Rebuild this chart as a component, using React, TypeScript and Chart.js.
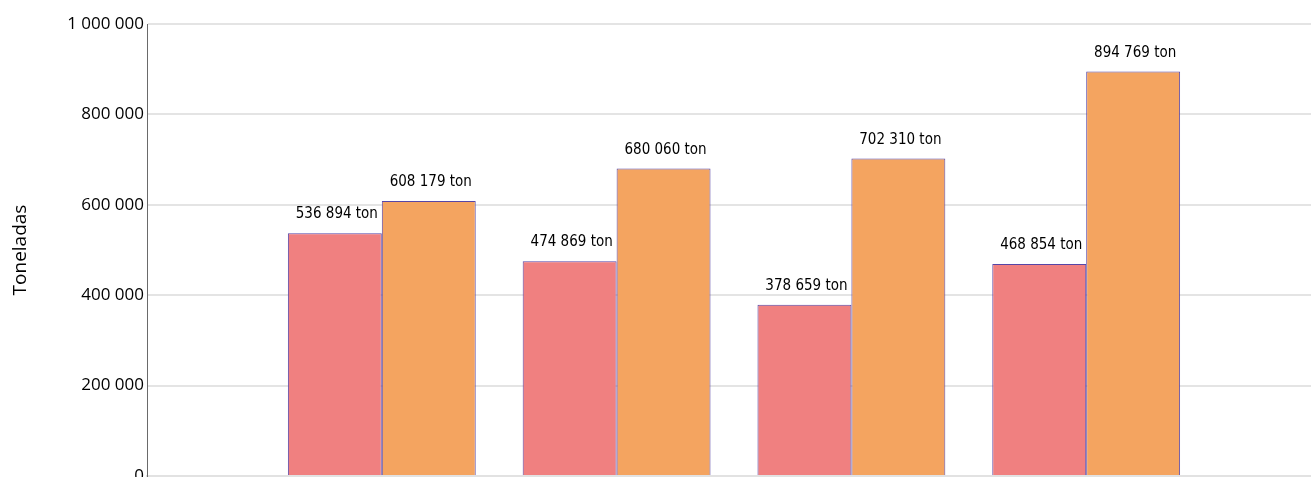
import React, { useEffect, useRef } from 'react';
import { Chart, registerables } from 'chart.js';

Chart.register(...registerables);

// Empty slots at both ends keep the four groups at 1/5 .. 4/5 of the plot width
const categories = ['', '2019', '2020', '2021', '2022', ''];
const seriesNames = ['Serie 1', 'Serie 2'];
const seriesRed = [null, 536894, 474869, 378659, 468854, null];
const seriesOrange = [null, 608179, 680060, 702310, 894769, null];
const yMin = 0;
const yMax = 1000000;
const yStep = 200000;
const axisTitle = 'Toneladas';
const unitSuffix = ' ton';

const fmt = (n: number) => String(Math.round(n)).replace(/\B(?=(\d{3})+(?!\d))/g, ' ');

const valueLabels = {
  id: 'valueLabels',
  afterDatasetsDraw(chart: any) {
    const ctx = chart.ctx;
    ctx.save();
    ctx.font = '15px "DejaVu Sans Condensed", "DejaVu Sans", sans-serif';
    ctx.fillStyle = '#000';
    ctx.textAlign = 'center';
    ctx.textBaseline = 'alphabetic';
    chart.data.datasets.forEach((ds: any, di: number) => {
      const meta = chart.getDatasetMeta(di);
      meta.data.forEach((el: any, i: number) => {
        const v = ds.data[i];
        if (v == null) return;
        ctx.fillText(fmt(v) + unitSuffix, el.x + 2, el.y - 15);
      });
    });
    ctx.restore();
  },
};

export default function App() {
  const ref = useRef<HTMLCanvasElement | null>(null);

  useEffect(() => {
    let chart: Chart | null = null;
    let cancelled = false;
    const make = () => {
      if (cancelled || !ref.current) return;
      chart = new Chart(ref.current, {
        type: 'bar',
        data: {
          labels: categories,
          datasets: [
            {
              label: seriesNames[0],
              data: seriesRed as any,
              backgroundColor: '#F08080',
              borderColor: '#5746A6',
              borderWidth: 1,
              categoryPercentage: 0.8,
              barPercentage: 1,
            },
            {
              label: seriesNames[1],
              data: seriesOrange as any,
              backgroundColor: '#F4A460',
              borderColor: '#5746A6',
              borderWidth: 1,
              categoryPercentage: 0.8,
              barPercentage: 1,
            },
          ],
        },
        options: {
          animation: false,
          responsive: true,
          maintainAspectRatio: false,
          layout: { padding: { top: 24, left: 0, right: 0, bottom: 0 } },
          plugins: {
            legend: { display: false },
            tooltip: { enabled: false },
          },
          scales: {
            x: {
              offset: false,
              grid: { display: false },
              border: { display: true, color: '#e2e2e2', width: 2 },
              ticks: { font: { family: 'Open Sans', size: 17 }, color: '#222' },
              afterFit: (s: any) => {
                s.height = 40;
              },
            },
            y: {
              min: yMin,
              max: yMax,
              ticks: {
                stepSize: yStep,
                padding: 3,
                color: '#000',
                font: { family: 'Open Sans', size: 17 },
                callback: (v: any) => fmt(Number(v)),
              },
              grid: { color: '#e4e4e4', lineWidth: 2, drawTicks: false },
              border: { display: true, color: '#6a6a6a', width: 1 },
              title: {
                display: true,
                text: axisTitle,
                color: '#000',
                font: { family: 'Open Sans', size: 19 },
                padding: { top: 9, bottom: 0 },
              },
              afterFit: (s: any) => {
                s.width = 147;
              },
            },
          },
        },
        plugins: [valueLabels],
      });
    };
    const fonts = (document as any).fonts;
    if (fonts && fonts.load) {
      Promise.all([
        fonts.load('17px "Open Sans"'),
        fonts.load('19px "Open Sans"'),
        fonts.load('15px "DejaVu Sans Condensed"'),
      ])
        .catch(() => undefined)
        .then(make);
    } else {
      make();
    }
    return () => {
      cancelled = true;
      if (chart) chart.destroy();
    };
  }, []);

  return (
    <div style={{ position: 'fixed', left: 0, top: 0, width: 1311, height: 477, overflow: 'hidden', background: '#fff' }}>
      <div style={{ position: 'absolute', left: 0, top: 0, width: 1324, height: 516 }}>
        <canvas ref={ref} />
      </div>
    </div>
  );
}
